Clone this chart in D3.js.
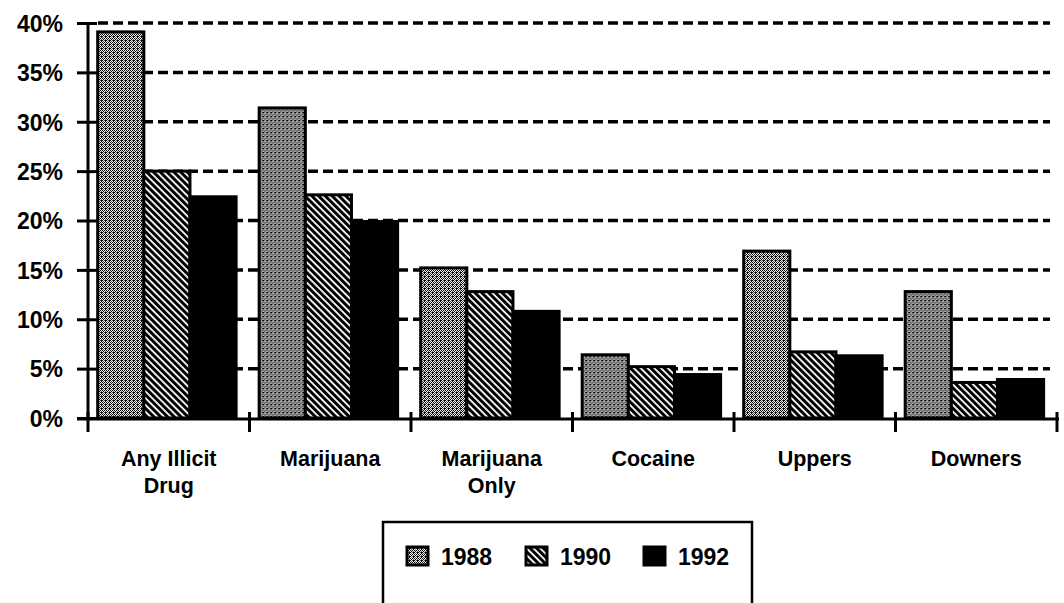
<!DOCTYPE html>
<html>
<head>
<meta charset="utf-8">
<script src="https://cdn.jsdelivr.net/npm/d3@7"></script>
<style>
  html, body { margin: 0; padding: 0; background: #fff; }
  svg { display: block; }
  text { font-family: "Liberation Sans", Arial, Helvetica, sans-serif; font-weight: bold; fill: #000; }
</style>
</head>
<body>
<svg id="chart" width="1064" height="603"></svg>
<script>
// ---- data ----
const categories = ["Any Illicit Drug", "Marijuana", "Marijuana Only", "Cocaine", "Uppers", "Downers"];
const categoryLabelLines = [["Any Illicit", "Drug"], ["Marijuana"], ["Marijuana", "Only"], ["Cocaine"], ["Uppers"], ["Downers"]];
const seriesNames = ["1988", "1990", "1992"];
const values1988 = [39.1, 31.4, 15.2, 6.4, 16.9, 12.8];
const values1990 = [25.0, 22.6, 12.8, 5.2, 6.7, 3.6];
const values1992 = [22.4, 19.9, 10.8, 4.4, 6.3, 3.9];
const yTicks = [0, 5, 10, 15, 20, 25, 30, 35, 40];
const yTickLabels = ["0%", "5%", "10%", "15%", "20%", "25%", "30%", "35%", "40%"];

const seriesValues = [values1988, values1990, values1992];

// ---- layout ----
const svg = d3.select("#chart");
const plotLeft = 88, plotRight = 1057, plotTop = 23, plotBottom = 418;

const x0 = d3.scaleBand().domain(categories).range([plotLeft, plotRight]).paddingInner(0).paddingOuter(0);
const x1 = d3.scaleBand().domain(seriesNames).range([0, x0.bandwidth()]).paddingInner(0).paddingOuter(0.25).align(0.42);
const y = d3.scaleLinear().domain([0, 40]).range([plotBottom, plotTop]);

// ---- patterns ----
const defs = svg.append("defs");
const stip = defs.append("pattern").attr("id", "stipple").attr("patternUnits", "userSpaceOnUse")
  .attr("width", 4).attr("height", 4);
stip.append("rect").attr("width", 4).attr("height", 4).attr("fill", "#eee");
[[0,0],[2,0],[1,1],[3,1],[0,2],[2,2],[1,3],[3,3],[1,0]].forEach(([a,b], i) => {
  stip.append("rect").attr("x", a).attr("y", b).attr("width", 1).attr("height", 1)
    .attr("fill", i % 3 === 0 ? "#555" : "#000");
});

const hatch = defs.append("pattern").attr("id", "hatch").attr("patternUnits", "userSpaceOnUse")
  .attr("width", 4.8).attr("height", 10).attr("patternTransform", "rotate(-45)");
hatch.append("rect").attr("width", 4.8).attr("height", 10).attr("fill", "#fff");
hatch.append("rect").attr("width", 3).attr("height", 10).attr("fill", "#000");

const fills = ["url(#stipple)", "url(#hatch)", "#000"];

// ---- gridlines ----
svg.append("g").selectAll("line").data(yTicks.filter(t => t > 0)).join("line")
  .attr("x1", plotLeft + 10).attr("x2", 1050)
  .attr("y1", d => y(d)).attr("y2", d => y(d))
  .attr("stroke", "#000").attr("stroke-width", 3.5).attr("stroke-dasharray", "10,5");

// ---- bars ----
const groups = svg.append("g").selectAll("g").data(categories).join("g")
  .attr("transform", d => `translate(${x0(d)},0)`);
groups.selectAll("rect").data((d, i) => seriesNames.map((s, j) => ({ s, j, v: seriesValues[j][i] }))).join("rect")
  .attr("x", d => x1(d.s))
  .attr("width", x1.bandwidth())
  .attr("y", d => y(d.v))
  .attr("height", d => y(0) - y(d.v))
  .attr("fill", d => fills[d.j])
  .attr("stroke", "#000").attr("stroke-width", 3);

// ---- y axis ----
const yAxis = d3.axisLeft(y).tickValues(yTicks).tickSize(0).tickFormat((d, i) => yTickLabels[i]);
const yg = svg.append("g").attr("transform", `translate(${plotLeft},0)`).call(yAxis);
yg.select(".domain").remove();
yg.selectAll(".tick text").attr("x", -25).attr("dy", "0.36em")
  .style("font-size", "23px").style("font-family", "\"Liberation Sans\", Arial, sans-serif").style("font-weight", "bold");
yg.selectAll(".tick").append("line").attr("x1", -11).attr("x2", 9).attr("stroke", "#000").attr("stroke-width", 3);
svg.append("line").attr("x1", plotLeft).attr("x2", plotLeft).attr("y1", plotTop).attr("y2", plotBottom + 1)
  .attr("stroke", "#000").attr("stroke-width", 3);

// ---- x axis ----
svg.append("line").attr("x1", plotLeft - 11).attr("x2", plotRight + 2).attr("y1", plotBottom + 1).attr("y2", plotBottom + 1)
  .attr("stroke", "#000").attr("stroke-width", 3);
const boundaries = categories.map(c => x0(c)).concat([x0(categories[categories.length - 1]) + x0.bandwidth()]);
svg.append("g").selectAll("line").data(boundaries).join("line")
  .attr("x1", d => d).attr("x2", d => d).attr("y1", plotBottom - 6).attr("y2", plotBottom + 14)
  .attr("stroke", "#000").attr("stroke-width", 3);

const labels = svg.append("g").selectAll("text").data(categories).join("text")
  .attr("x", d => x0(d) + x0.bandwidth() / 2)
  .attr("y", 466)
  .attr("text-anchor", "middle")
  .style("font-size", "21.5px");
labels.each(function(d, i) {
  const t = d3.select(this);
  categoryLabelLines[i].forEach((line, k) => {
    t.append("tspan").attr("x", x0(d) + x0.bandwidth() / 2).attr("dy", k === 0 ? 0 : 27).text(line);
  });
});

// ---- legend ----
const legend = svg.append("g");
legend.append("rect").attr("x", 383).attr("y", 522).attr("width", 369).attr("height", 120)
  .attr("fill", "none").attr("stroke", "#000").attr("stroke-width", 2.5);
const legendX = [407, 526, 644];
seriesNames.forEach((s, j) => {
  legend.append("rect").attr("x", legendX[j]).attr("y", 547).attr("width", 21).attr("height", 18)
    .attr("fill", fills[j]).attr("stroke", "#000").attr("stroke-width", 3);
  legend.append("text").attr("x", legendX[j] + 34).attr("y", 565).style("font-size", "23px").text(s);
});
</script>
</body>
</html>
